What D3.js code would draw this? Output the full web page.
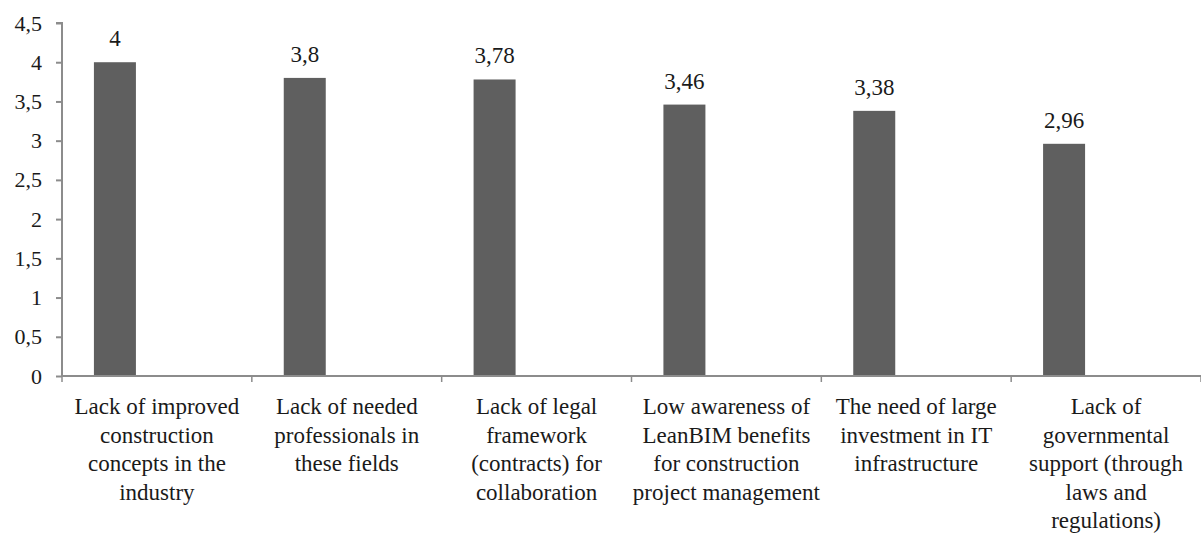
<!DOCTYPE html>
<html>
<head>
<meta charset="utf-8">
<script src="https://cdn.jsdelivr.net/npm/d3@7"></script>
<style>
  body { margin: 0; background: #fff; }
  svg text { font-family: "Liberation Serif", "Times New Roman", serif; fill: #1a1a1a; }
</style>
</head>
<body>
<div id="chart"></div>
<script>
// data
var categories = [
    ["Lack of improved", "construction", "concepts in the", "industry"],
    ["Lack of needed", "professionals in", "these fields"],
    ["Lack of legal", "framework", "(contracts) for", "collaboration"],
    ["Low awareness of", "LeanBIM benefits", "for construction", "project management"],
    ["The need of large", "investment in IT", "infrastructure"],
    ["Lack of", "governmental", "support (through", "laws and", "regulations)"]
];
var values = [4, 3.8, 3.78, 3.46, 3.38, 2.96];
var yTicks = [0, 0.5, 1, 1.5, 2, 2.5, 3, 3.5, 4, 4.5];

var W = 1201, H = 535;
var margin = { top: 23, right: 0, bottom: 159, left: 62 };
var w = W - margin.left - margin.right;
var h = H - margin.top - margin.bottom;
var serif = '"Liberation Serif", "Times New Roman", serif';

var svg = d3.select("#chart").append("svg")
    .attr("width", W)
    .attr("height", H)
    .append("g")
    .attr("transform", "translate(" + margin.left + "," + margin.top + ")");

var idx = d3.range(categories.length);
var xScale = d3.scaleBand().domain(idx).range([0, w]);
var yScale = d3.scaleLinear().domain([0, 4.5]).range([h, 0]);
var comma = function(v) { return String(v).replace(".", ","); };

var bw = 42;

// bars (sit left of the category centre)
svg.selectAll("rect.bar")
    .data(values)
    .enter().append("rect")
    .attr("class", "bar")
    .attr("x", function(d, i) { return xScale(i) + xScale.bandwidth() / 2 - 63; })
    .attr("y", function(d) { return yScale(d); })
    .attr("width", bw)
    .attr("height", function(d) { return h - yScale(d); })
    .style("fill", "#5f5f5f");

// value labels
svg.selectAll("text.val")
    .data(values)
    .enter().append("text")
    .attr("class", "val")
    .attr("x", function(d, i) { return xScale(i) + xScale.bandwidth() / 2 - 42; })
    .attr("y", function(d) { return yScale(d) - 16; })
    .attr("text-anchor", "middle")
    .style("font-family", serif)
    .style("font-size", "23px")
    .text(function(d) { return comma(d); });

// y axis
var yAxis = svg.append("g")
    .call(d3.axisLeft(yScale).tickValues(yTicks).tickSize(6).tickPadding(14).tickFormat(comma));
yAxis.attr("font-family", null);
yAxis.select(".domain").attr("stroke", "#8c8c8c").attr("stroke-width", 2).attr("d", "M-6,0H0V" + h);
yAxis.selectAll(".tick line").attr("stroke", "#8c8c8c").attr("stroke-width", 2);
yAxis.selectAll(".tick text").style("font-size", "22px").style("font-family", serif).attr("fill", "#1a1a1a");

// x axis
var xg = svg.append("g").attr("transform", "translate(0," + h + ")");
xg.append("line")
    .attr("x1", 0).attr("x2", w)
    .attr("stroke", "#8c8c8c").attr("stroke-width", 2);
xg.selectAll("line.tk")
    .data(idx.concat([categories.length]))
    .enter().append("line")
    .attr("class", "tk")
    .attr("x1", function(d) { return d < categories.length ? xScale(d) : w; })
    .attr("x2", function(d) { return d < categories.length ? xScale(d) : w; })
    .attr("y1", 0).attr("y2", 6)
    .attr("stroke", "#8c8c8c").attr("stroke-width", 1.5);

// category labels
var lab = xg.selectAll("text.cat")
    .data(categories)
    .enter().append("text")
    .attr("class", "cat")
    .attr("text-anchor", "middle")
    .style("font-family", serif)
    .style("font-size", "23px")
    .attr("transform", function(d, i) { return "translate(" + (xScale(i) + xScale.bandwidth() / 2) + ",38)"; });
lab.selectAll("tspan")
    .data(function(d) { return d; })
    .enter().append("tspan")
    .attr("x", 0)
    .attr("y", function(d, j) { return j * 28.6; })
    .text(function(d) { return d; });
</script>
</body>
</html>
